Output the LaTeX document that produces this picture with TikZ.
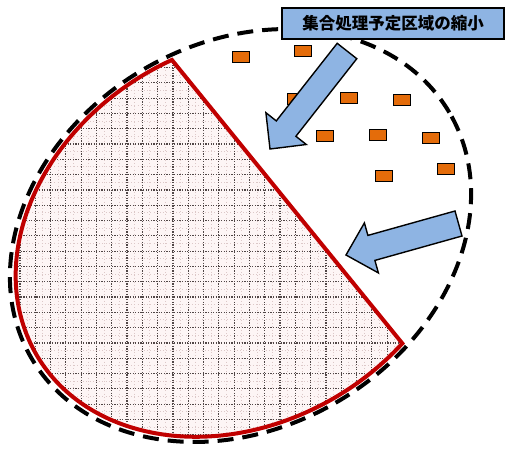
\documentclass[tikz,border=0pt]{standalone}
\usepackage{fontspec}
\newfontfamily\cjk{Noto Sans CJK JP}
\definecolor{arrowblue}{RGB}{142,180,227}
\definecolor{rectorange}{RGB}{228,108,10}
\definecolor{pinkbg}{RGB}{253,245,245}
\definecolor{griddot}{RGB}{80,70,70}
\definecolor{gridlight}{RGB}{220,200,200}
\definecolor{redline}{RGB}{192,0,0}
\tikzset{
  dashring/.style={draw=black, line width=4pt, dash pattern=on 16pt off 9pt},
  bluearrow/.style={draw=black, line width=1.4pt, fill=arrowblue, line join=miter},
  orangebox/.style={draw=black, line width=1.4pt, fill=rectorange, minimum width=17pt, minimum height=11pt, inner sep=0pt},
  labelbox/.style={draw=black, line width=1.4pt, fill=arrowblue, minimum width=222pt, minimum height=31pt, inner sep=0pt, font=\cjk\bfseries\fontsize{16.5}{18}\selectfont},
  gridmajor/.style={griddot, line width=1.2pt, dash pattern=on 1.1pt off 1.5pt},
  gridminor/.style={gridlight, line width=1pt, dash pattern=on 1pt off 2.2pt},
}
\begin{document}
\begin{tikzpicture}[x=1pt,y=1pt]
\useasboundingbox (0,0) rectangle (509,-448);
% dashed outer ellipse
\draw[dashring, rotate around={30.5:(240.5,-235.5)}] (240.5,-235.5) ellipse [x radius=242.4, y radius=192.4];
% red pie-shaped region
\begin{scope}
  \clip[shift={(240.5,-235.5)}, rotate=30.5] (30.0,186.1) arc[start angle=82.7, end angle=291, x radius=236.3, y radius=187.6] -- cycle;
  \fill[pinkbg] (0,0) rectangle (509,-448);
  \foreach \i in {0,...,28} {
    \draw[gridminor] ({4.6+7.65+15.3*\i},0) -- ++(0,-448);
    \draw[gridminor] (0,{-(6.3+7.65+15.3*\i)}) -- ++(509,0);
  }
  \foreach \i in {0,...,29} {
    \draw[gridmajor] ({4.6+15.3*\i},0) -- ++(0,-448);
    \draw[gridmajor] (0,{-(6.3+15.3*\i)}) -- ++(509,0);
  }
\end{scope}
\draw[redline, line width=4pt, line join=miter, shift={(240.5,-235.5)}, rotate=30.5] (30.0,186.1) arc[start angle=82.7, end angle=291, x radius=236.3, y radius=187.6] -- cycle;
% orange squares
\node[orangebox] (r1) at (241,-57) {};
\node[orangebox] (r2) at (303,-51) {};
\node[orangebox] (r3) at (296,-99) {};
\node[orangebox] (r4) at (349,-98) {};
\node[orangebox] (r5) at (402,-100) {};
\node[orangebox] (r6) at (325,-136) {};
\node[orangebox] (r7) at (378,-135) {};
\node[orangebox] (r8) at (431,-138) {};
\node[orangebox] (r9) at (446,-169) {};
\node[orangebox] (r10) at (384,-176) {};
% blue arrows
\draw[bluearrow] (337.2,-43.3) -- (276.3,-120.9) -- (265.9,-112.7) -- (270,-149) -- (306.3,-144.5) -- (295.9,-136.3) -- (356.8,-58.7) -- cycle;
\draw[bluearrow] (455.0,-211.0) -- (367.9,-235.4) -- (364.4,-222.9) -- (346,-255) -- (378.4,-272.9) -- (374.9,-260.4) -- (462.0,-236.0) -- cycle;
% label
\node[labelbox] (label) at (393,-23.5) {集合処理予定区域の縮小};
\end{tikzpicture}
\end{document}
